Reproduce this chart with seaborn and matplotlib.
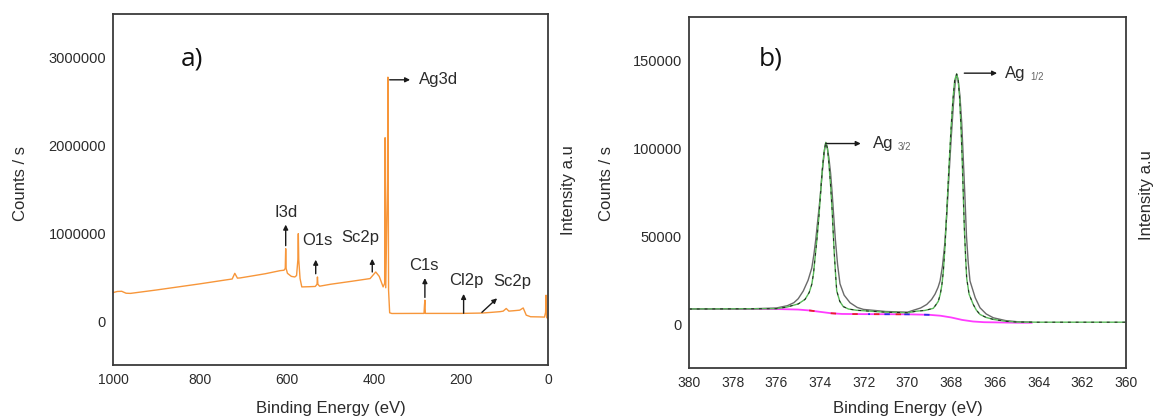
import matplotlib
matplotlib.use("Agg")
import matplotlib.pyplot as plt
import seaborn as sns
import numpy as np
import pandas as pd

# ---------------- data: panel a (survey) ----------------
survey_be = [1000, 990, 980, 970, 960, 900, 850, 800, 760, 740, 726, 720, 714, 708,
             680, 650, 616, 607, 604, 603, 602, 599, 590, 582, 578, 575, 574, 573, 570,
             566, 550, 535, 531, 530, 529, 525, 500, 450, 409, 396, 388, 379, 375.5,
             374.5, 373, 369, 368, 366.5, 364, 359, 300, 285, 284, 283, 282, 280, 250,
             200, 152, 130, 110, 103, 96, 90, 80, 65, 57, 50, 40, 20, 8, 5.5, 4.5, 3, 0]
survey_counts = [325e3, 338e3, 340e3, 318e3, 316e3, 355e3, 390e3, 425e3, 455e3, 470e3,
                 480e3, 545e3, 490e3, 492e3, 515e3, 540e3, 575e3, 580e3, 600e3, 826e3,
                 600e3, 545e3, 510e3, 503e3, 520e3, 700e3, 997e3, 700e3, 485e3,
                 390e3, 392e3, 395e3, 420e3, 503e3, 420e3, 398e3, 420e3, 455e3, 485e3,
                 560e3, 510e3, 390e3, 430e3, 2.09e6, 380e3, 1.6e6, 2.78e6, 350e3, 95e3,
                 87e3, 88e3, 88e3, 180e3, 239e3, 88e3, 88e3, 88e3, 88e3, 92e3, 100e3,
                 108e3, 114e3, 144e3, 114e3, 118e3, 125e3, 150e3, 68e3, 50e3, 48e3,
                 46e3, 100e3, 295e3, 40e3, 30e3]

survey_xticks = [1000, 800, 600, 400, 200, 0]
survey_yticks = [0, 1000000, 2000000, 3000000]
survey_yticklabels = ["0", "1000000", "2000000", "3000000"]

peak_labels = ["I3d", "O1s", "Sc2p", "C1s", "Cl2p", "Sc2p"]
peak_text_x = [603, 531, 432, 286, 188, 81]
peak_text_y = [1.24e6, 0.92e6, 0.95e6, 0.63e6, 0.46e6, 0.45e6]
peak_arrow_x0 = [603, 534, 404, 283, 194, 152]
peak_arrow_y0 = [0.86e6, 0.54e6, 0.56e6, 0.27e6, 0.09e6, 0.10e6]
peak_arrow_x1 = [603, 534, 404, 283, 194, 117]
peak_arrow_y1 = [1.10e6, 0.70e6, 0.71e6, 0.49e6, 0.31e6, 0.26e6]

# ---------------- data: panel b (Ag 3d) ----------------
raw_be = [380, 378, 377, 376, 375.5, 375.2, 375.0, 374.77, 374.55, 374.38, 374.28, 374.2,
          374.1, 374.0, 373.92, 373.85, 373.79, 373.74, 373.68, 373.6, 373.52, 373.45,
          373.38, 373.3, 373.2, 373.09, 372.9, 372.63, 372.3, 372.02, 371, 370, 369.73,
          369.4, 369.12, 368.9, 368.74, 368.6, 368.51, 368.4, 368.3, 368.2, 368.1, 368.0,
          367.9, 367.82, 367.75, 367.68, 367.6, 367.52, 367.45, 367.37, 367.3, 367.22,
          367.14, 366.9, 366.68, 366.4, 366.07, 365.5, 365, 364.3]
raw_counts = [8.7e3, 8.7e3, 8.8e3, 9.2e3, 10.5e3, 12.2e3, 14.5e3, 18.9e3, 25e3, 32e3, 40e3,
              48e3, 60e3, 72e3, 84e3, 93e3, 100e3, 103.5e3, 101e3, 95e3, 86e3, 75e3, 62e3,
              48e3, 34e3, 23e3, 16.5e3, 12.2e3, 9.5e3, 8.4e3, 7.2e3, 6.8e3, 7.9e3, 9.2e3,
              11.2e3, 14e3, 17.1e3, 21e3, 24.6e3, 33e3, 45e3, 63e3, 85e3, 106e3, 125e3,
              137e3, 142.5e3, 139e3, 130e3, 115e3, 95e3, 72e3, 50e3, 35e3, 24.6e3, 15e3,
              9.3e3, 5.8e3, 3.6e3, 2.0e3, 1.4e3, 1.1e3]

fit_be = [380, 376, 375.53, 375.0, 374.69, 374.5, 374.38, 374.3, 374.23, 374.14, 374.05,
          373.97, 373.9, 373.82, 373.74, 373.66, 373.6, 373.52, 373.45, 373.4, 373.35,
          373.29, 373.24, 373.1, 372.94, 372.7, 372.33, 371, 370, 369.58, 369.2, 368.82,
          368.7, 368.59, 368.5, 368.43, 368.36, 368.28, 368.2, 368.1, 368.0, 367.92,
          367.84, 367.75, 367.68, 367.62, 367.55, 367.5, 367.45, 367.4, 367.34, 367.29,
          367.18, 366.99, 366.85, 366.68, 366.4, 366.07, 365.5, 365, 364, 362, 360]
fit_counts = [8.6e3, 8.8e3, 9.7e3, 11.5e3, 14.1e3, 18e3, 22.7e3, 29e3, 37.9e3, 49e3, 62e3,
              76e3, 88e3, 98e3, 103.5e3, 100e3, 92e3, 79e3, 65e3, 52e3, 40e3, 28e3, 19e3,
              13e3, 10e3, 8.6e3, 7.9e3, 6.8e3, 6.5e3, 7.4e3, 7.8e3, 9e3, 11e3, 13e3, 17e3,
              22e3, 30e3, 45e3, 65e3, 90e3, 113e3, 128e3, 139e3, 142.5e3, 139e3, 130e3,
              112e3, 95e3, 75e3, 55e3, 38e3, 26e3, 17e3, 11.2e3, 8e3, 5.5e3, 3.8e3, 2.7e3,
              1.6e3, 1.2e3, 1.1e3, 1.1e3, 1.1e3]

bg_be = [380, 376, 375, 374.5, 374, 373.5, 373, 372, 370, 369, 368.5, 368, 367.5, 367,
         366.5, 365, 364.3]
bg_counts = [8.6e3, 8.6e3, 8.3e3, 7.8e3, 7.0e3, 6.2e3, 5.8e3, 5.7e3, 5.6e3, 5.3e3, 4.8e3,
             3.8e3, 2.4e3, 1.5e3, 1.1e3, 0.8e3, 0.8e3]

red_be = [374.5, 374, 373.5, 373, 372, 370, 369.8]
red_counts = [7.8e3, 7.0e3, 6.2e3, 5.8e3, 5.7e3, 5.6e3, 5.55e3]
blue_be = [371.8, 371, 370, 369, 368.9]
blue_counts = [5.7e3, 5.65e3, 5.6e3, 5.3e3, 5.25e3]

ag_xticks = [380, 378, 376, 374, 372, 370, 368, 366, 364, 362, 360]
ag_yticks = [0, 50000, 100000, 150000]
ag_yticklabels = ["0", "50000", "100000", "150000"]

# ---------------- style ----------------
sns.set_theme(style="white")
plt.rcParams["font.family"] = ["Liberation Sans", "DejaVu Sans"]
TXT = "#2b2b2b"

fig = plt.figure(figsize=(11.59, 4.19), dpi=100)
W, H = 1159, 419
ax1 = fig.add_axes([113 / W, 1 - 365 / H, 435 / W, 351 / H])
ax2 = fig.add_axes([689 / W, 1 - 368 / H, 437 / W, 351 / H])

df_s = pd.DataFrame({"be": survey_be, "counts": survey_counts})
sns.lineplot(data=df_s, x="be", y="counts", ax=ax1, color="#f7963a", lw=1.0,
             sort=False, estimator=None)

df_bg = pd.DataFrame({"be": bg_be, "c": bg_counts})
df_raw = pd.DataFrame({"be": raw_be, "c": raw_counts})
df_fit = pd.DataFrame({"be": fit_be, "c": fit_counts})
df_red = pd.DataFrame({"be": red_be, "c": red_counts})
df_blue = pd.DataFrame({"be": blue_be, "c": blue_counts})

sns.lineplot(data=df_bg, x="be", y="c", ax=ax2, color="#ff3cff", lw=1.3,
             sort=False, estimator=None)
sns.lineplot(data=df_red, x="be", y="c", ax=ax2, color="#e8202a", lw=1.3,
             sort=False, estimator=None, linestyle=(0, (3, 9)))
sns.lineplot(data=df_blue, x="be", y="c", ax=ax2, color="#2a2ae8", lw=1.3,
             sort=False, estimator=None, linestyle=(2, (3, 8)))
sns.lineplot(data=df_raw, x="be", y="c", ax=ax2, color="#6a6a6a", lw=1.0,
             sort=False, estimator=None)
sns.lineplot(data=df_fit, x="be", y="c", ax=ax2, color="#58b858", lw=1.0,
             sort=False, estimator=None)
sns.lineplot(data=df_fit, x="be", y="c", ax=ax2, color="#222222", lw=0.7,
             sort=False, estimator=None, linestyle=(0, (3, 5)))

# ---------------- axes formatting ----------------
for ax in (ax1, ax2):
    ax.set_xlabel("")
    ax.set_ylabel("")
    for sp in ax.spines.values():
        sp.set_visible(True)
        sp.set_color("#3a3a3a")
        sp.set_linewidth(1.3)
    ax.tick_params(axis="both", length=0, colors=TXT)
    ax.tick_params(axis="x", labelsize=10, pad=6)
    ax.tick_params(axis="y", labelsize=10.5, pad=5)
    ax.grid(False)

ax1.set_xlim(1000, 0)
ax1.set_ylim(-500000, 3500000)
ax1.set_xticks(survey_xticks)
ax1.set_xticklabels([str(t) for t in survey_xticks])
ax1.set_yticks(survey_yticks)
ax1.set_yticklabels(survey_yticklabels)

ax2.set_xlim(380, 360)
ax2.set_ylim(-25000, 175000)
ax2.set_xticks(ag_xticks)
ax2.set_xticklabels([str(t) for t in ag_xticks])
ax2.set_yticks(ag_yticks)
ax2.set_yticklabels(ag_yticklabels)

def ftext(x, y, s, **kw):
    fig.text(x / W, 1 - y / H, s, **kw)

ftext(330.5, 408, "Binding Energy (eV)", ha="center", va="center", fontsize=12, color=TXT)
ftext(907.5, 408, "Binding Energy (eV)", ha="center", va="center", fontsize=12, color=TXT)
ftext(21, 183, "Counts / s", ha="center", va="center", rotation=90, fontsize=12, color=TXT)
ftext(607, 183, "Counts / s", ha="center", va="center", rotation=90, fontsize=12, color=TXT)
ftext(569, 190, "Intensity a.u", ha="center", va="center", rotation=90, fontsize=12, color=TXT)
ftext(1147, 195, "Intensity a.u", ha="center", va="center", rotation=90, fontsize=12, color=TXT)

ax1.text(845, 2.99e6, "a)", fontsize=19, ha="left", va="center", color="#111111",
         family=["Open Sans", "DejaVu Sans"])
ax2.text(376.8, 151e3, "b)", fontsize=19, ha="left", va="center", color="#111111",
         family=["Open Sans", "DejaVu Sans"])

arrow_kw = dict(arrowstyle="-|>", color="#1a1a1a", lw=1.0, mutation_scale=7,
                shrinkA=0, shrinkB=0)
for lab, tx, ty, x0, y0, x1, y1 in zip(peak_labels, peak_text_x, peak_text_y,
                                       peak_arrow_x0, peak_arrow_y0,
                                       peak_arrow_x1, peak_arrow_y1):
    ax1.annotate("", xy=(x1, y1), xytext=(x0, y0), arrowprops=arrow_kw)
    ax1.text(tx, ty, lab, ha="center", va="center", fontsize=12, color=TXT)

ax1.annotate("", xy=(317, 2.75e6), xytext=(364, 2.75e6), arrowprops=arrow_kw)
ax1.text(296, 2.75e6, "Ag3d", ha="left", va="center", fontsize=12, color=TXT)

ax2.annotate("", xy=(372.14, 102.9e3), xytext=(373.74, 102.9e3), arrowprops=arrow_kw)
ax2.text(371.6, 102.9e3, "Ag", ha="left", va="center", fontsize=12, color=TXT)
ax2.text(370.45, 100.8e3, "3/2", ha="left", va="center", fontsize=7, color="#666666")

ax2.annotate("", xy=(365.9, 143e3), xytext=(367.4, 143e3), arrowprops=arrow_kw)
ax2.text(365.55, 143e3, "Ag", ha="left", va="center", fontsize=12, color=TXT)
ax2.text(364.4, 140.8e3, "1/2", ha="left", va="center", fontsize=7, color="#666666")

fig.savefig("out.png", dpi=100, facecolor="white")
